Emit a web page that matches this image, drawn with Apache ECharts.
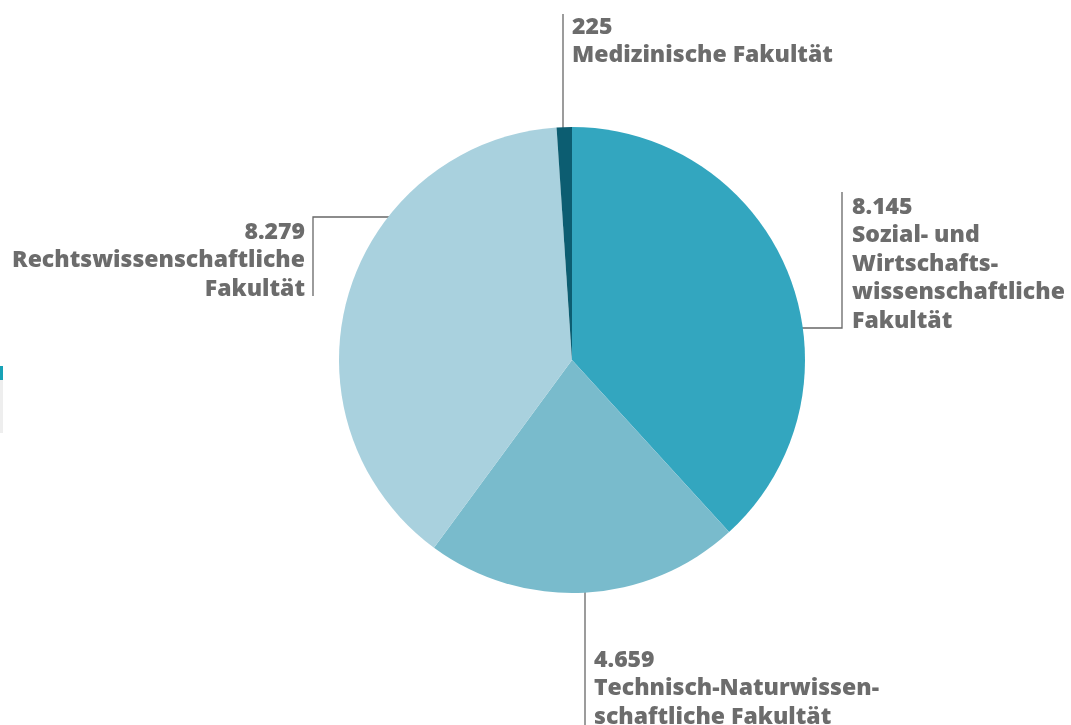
<!DOCTYPE html>
<html>
<head>
<meta charset="utf-8">
<script src="https://cdn.jsdelivr.net/npm/echarts@6/dist/echarts.min.js"></script>
<style>
  html, body { margin: 0; padding: 0; background: #fff; }
  #chart { width: 1071px; height: 725px; }
</style>
</head>
<body>
<div id="chart"></div>
<script>
'use strict';

// Fakultäten (Zeilenumbrüche wie im Original)
var categories = [
  'Sozial- und\nWirtschafts-\nwissenschaftliche\nFakultät',
  'Technisch-Naturwissen-\nschaftliche Fakultät',
  'Rechtswissenschaftliche\nFakultät',
  'Medizinische Fakultät'
];
var values = [8145, 4659, 8279, 225];
var colors = ['#33a6bf', '#79bbcc', '#a9d1de', '#0c5d71'];

// Label-Positionen: Textanker + Führungslinie
var labelPos = [
  { x: 852, y: 193, align: 'left', line: [[775, 328], [842, 328], [842, 192]] },
  { x: 594, y: 646, align: 'left', line: [[585, 542], [585, 725], [585, 725]] },
  { x: 305, y: 218, align: 'right', line: [[408, 217], [313, 217], [313, 296]] },
  { x: 572, y: 13, align: 'left', line: [[563, 165], [563, 14], [563, 14]] }
];

function fmt(v) {
  return String(v).replace(/\B(?=(\d{3})+(?!\d))/g, '.');
}

var chart = echarts.init(document.getElementById('chart'));

chart.setOption({
  animation: false,
  graphic: [
    { type: 'rect', shape: { x: 0, y: 366, width: 3, height: 14 }, style: { fill: '#17a2b6' } },
    { type: 'rect', shape: { x: 0, y: 380, width: 3, height: 53 }, style: { fill: '#eeeeee' } }
  ],
  series: [{
    type: 'pie',
    center: [572, 360],
    radius: 233,
    startAngle: 90,
    clockwise: true,
    avoidLabelOverlap: false,
    data: values.map(function (v, i) {
      return { name: categories[i], value: v, itemStyle: { color: colors[i] } };
    }),
    label: {
      show: true,
      position: 'outside',
      formatter: function (p) { return fmt(p.value) + '\n' + p.name; },
      fontFamily: 'Open Sans',
      fontWeight: 800,
      fontSize: 23,
      lineHeight: 28.5,
      color: '#6c6c6c'
    },
    labelLine: {
      show: true,
      smooth: false,
      lineStyle: { color: 'rgba(0,0,0,0.6)', width: 1.3 }
    },
    emphasis: { disabled: true },
    labelLayout: function (p) {
      var l = labelPos[p.dataIndex];
      return {
        x: l.x,
        y: l.y,
        align: l.align,
        verticalAlign: 'top',
        labelLinePoints: l.line
      };
    }
  }]
});
</script>
</body>
</html>
